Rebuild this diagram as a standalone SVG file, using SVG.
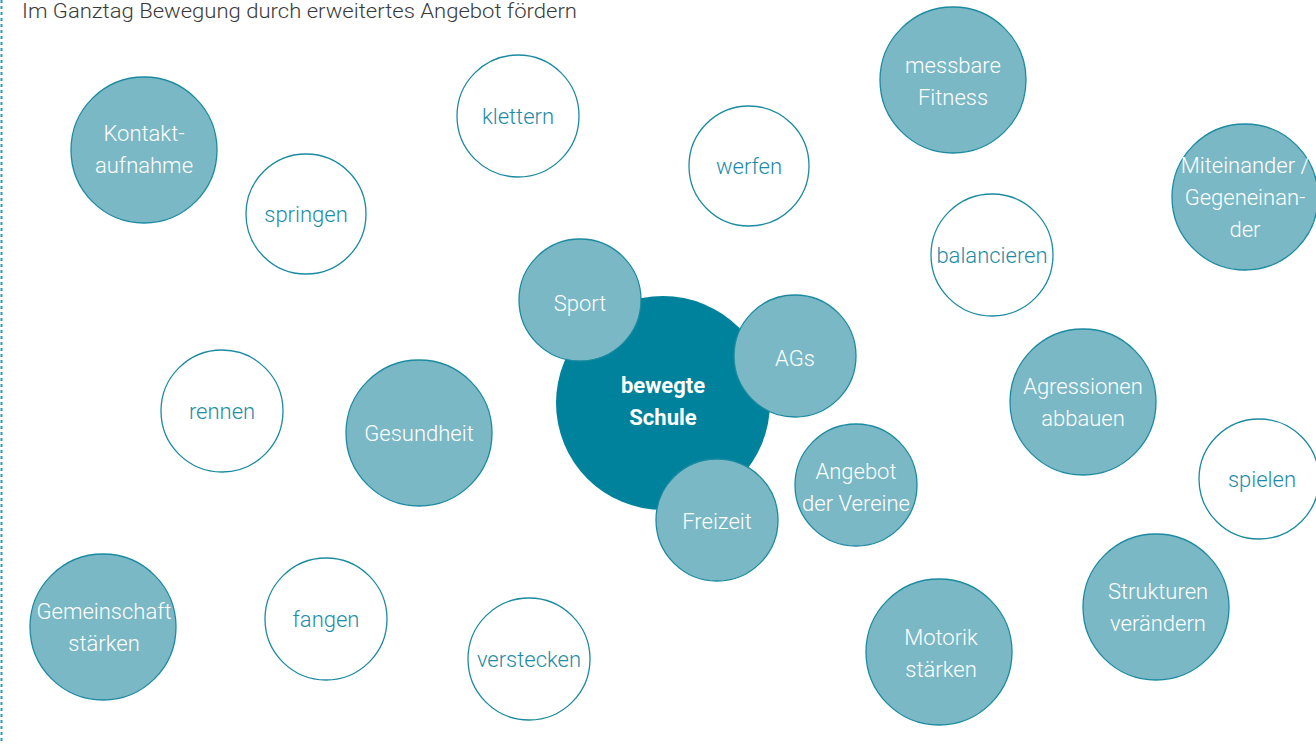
<svg xmlns="http://www.w3.org/2000/svg" width="1316" height="744" viewBox="0 0 1316 744">
<style>
.f{fill:#7ab8c6;stroke:#1b8aa1;stroke-width:1.3}
.w{fill:#fff;stroke:#1b8aa1;stroke-width:1.3}
.c{fill:#00829c}
text{font-family:Roboto,"Liberation Sans",sans-serif;font-weight:300;font-size:22px;text-anchor:middle}
.tf{fill:#fff}
.tw{fill:#1e8ca6}
.tb{fill:#fff;font-weight:700;font-size:22px}
.title{fill:#3a3a3a;text-anchor:start;font-size:20px}
</style>
<rect width="1316" height="744" fill="#fff"/>
<line x1="1.5" y1="0" x2="1.5" y2="744" stroke="#2a9ab2" stroke-width="2" stroke-dasharray="3,3"/>
<text class="title" x="22" y="18" textLength="555" lengthAdjust="spacingAndGlyphs">Im Ganztag Bewegung durch erweitertes Angebot fördern</text>
<g id="connectors"/>
<g id="kontakt"><circle class="f" cx="144" cy="150" r="73"/><text class="tf" x="144" y="141">Kontakt-</text><text class="tf" x="144" y="173">aufnahme</text></g>
<g id="springen"><circle class="w" cx="306" cy="214" r="60"/><text class="tw" x="306" y="222">springen</text></g>
<g id="klettern"><circle class="w" cx="518" cy="116" r="61"/><text class="tw" x="518" y="124">klettern</text></g>
<g id="werfen"><circle class="w" cx="749" cy="166" r="60"/><text class="tw" x="749" y="174">werfen</text></g>
<g id="fitness"><circle class="f" cx="953" cy="80" r="73"/><text class="tf" x="953" y="73">messbare</text><text class="tf" x="953" y="105">Fitness</text></g>
<g id="miteinander"><circle class="f" cx="1245" cy="197" r="73"/><text class="tf" x="1245" y="173">Miteinander /</text><text class="tf" x="1245" y="205">Gegeneinan-</text><text class="tf" x="1245" y="237">der</text></g>
<g id="balancieren"><circle class="w" cx="992" cy="255" r="61"/><text class="tw" x="992" y="263">balancieren</text></g>
<g id="rennen"><circle class="w" cx="222" cy="411" r="61"/><text class="tw" x="222" y="419">rennen</text></g>
<g id="gesundheit"><circle class="f" cx="419" cy="433" r="73"/><text class="tf" x="419" y="441">Gesundheit</text></g>
<g id="schule"><circle class="c" cx="663" cy="403" r="107"/><text class="tb" x="663" y="393">bewegte</text><text class="tb" x="663" y="425">Schule</text></g>
<g id="sport"><circle class="f" cx="580" cy="300" r="61"/><text class="tf" x="580" y="311">Sport</text></g>
<g id="ags"><circle class="f" cx="795" cy="356" r="61"/><text class="tf" x="795" y="366">AGs</text></g>
<g id="freizeit"><circle class="f" cx="717" cy="520" r="61"/><text class="tf" x="717" y="529">Freizeit</text></g>
<g id="vereine"><circle class="f" cx="856" cy="485" r="61"/><text class="tf" x="856" y="479">Angebot</text><text class="tf" x="856" y="511">der Vereine</text></g>
<g id="agressionen"><circle class="f" cx="1083" cy="402" r="73"/><text class="tf" x="1083" y="394">Agressionen</text><text class="tf" x="1083" y="426">abbauen</text></g>
<g id="spielen"><circle class="w" cx="1259" cy="479" r="60"/><text class="tw" x="1262" y="487">spielen</text></g>
<g id="gemeinschaft"><circle class="f" cx="103" cy="627" r="73"/><text class="tf" x="104" y="619">Gemeinschaft</text><text class="tf" x="104" y="651">stärken</text></g>
<g id="fangen"><circle class="w" cx="326" cy="619" r="61"/><text class="tw" x="326" y="627">fangen</text></g>
<g id="verstecken"><circle class="w" cx="529" cy="659" r="61"/><text class="tw" x="529" y="667">verstecken</text></g>
<g id="motorik"><circle class="f" cx="939" cy="652" r="73"/><text class="tf" x="941" y="645">Motorik</text><text class="tf" x="941" y="677">stärken</text></g>
<g id="strukturen"><circle class="f" cx="1156" cy="607" r="73"/><text class="tf" x="1158" y="599">Strukturen</text><text class="tf" x="1158" y="631">verändern</text></g>
</svg>
